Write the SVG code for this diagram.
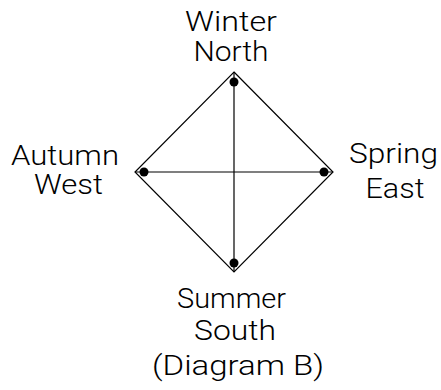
<svg xmlns="http://www.w3.org/2000/svg" width="441" height="390" viewBox="0 0 441 390">
<style>
text{font-family:"Roboto","Liberation Sans",Arial,sans-serif;font-weight:300;font-size:27px;fill:#000;text-anchor:middle}
.edge{stroke:#000;stroke-width:1.2;fill:none}
.dot{fill:#000}
</style>
<rect width="441" height="390" fill="#fff"/>
<g id="connectors">
<polygon class="edge" points="234,72 333,172 234,272 135,172"/>
<line class="edge" x1="234" y1="72" x2="234" y2="272"/>
<line class="edge" x1="135" y1="172" x2="333" y2="172"/>
<circle class="dot" cx="234" cy="82" r="4.5"/>
<circle class="dot" cx="324" cy="172" r="4.5"/>
<circle class="dot" cx="234" cy="263" r="4.5"/>
<circle class="dot" cx="144" cy="172" r="4.5"/>
</g>
<g id="north">
<text x="231" y="31" textLength="92" lengthAdjust="spacingAndGlyphs">Winter</text>
<text x="231" y="61" textLength="75" lengthAdjust="spacingAndGlyphs">North</text>
</g>
<g id="west">
<text x="65" y="165" textLength="108" lengthAdjust="spacingAndGlyphs">Autumn</text>
<text x="68.5" y="194" textLength="69" lengthAdjust="spacingAndGlyphs">West</text>
</g>
<g id="east">
<text x="393.5" y="163" textLength="89" lengthAdjust="spacingAndGlyphs">Spring</text>
<text x="395" y="198" textLength="59" lengthAdjust="spacingAndGlyphs">East</text>
</g>
<g id="south">
<text x="231.5" y="308" textLength="109" lengthAdjust="spacingAndGlyphs">Summer</text>
<text x="235" y="340" textLength="82" lengthAdjust="spacingAndGlyphs">South</text>
</g>
<g id="caption">
<text x="238" y="375" textLength="172" lengthAdjust="spacingAndGlyphs">(Diagram B)</text>
</g>
</svg>
